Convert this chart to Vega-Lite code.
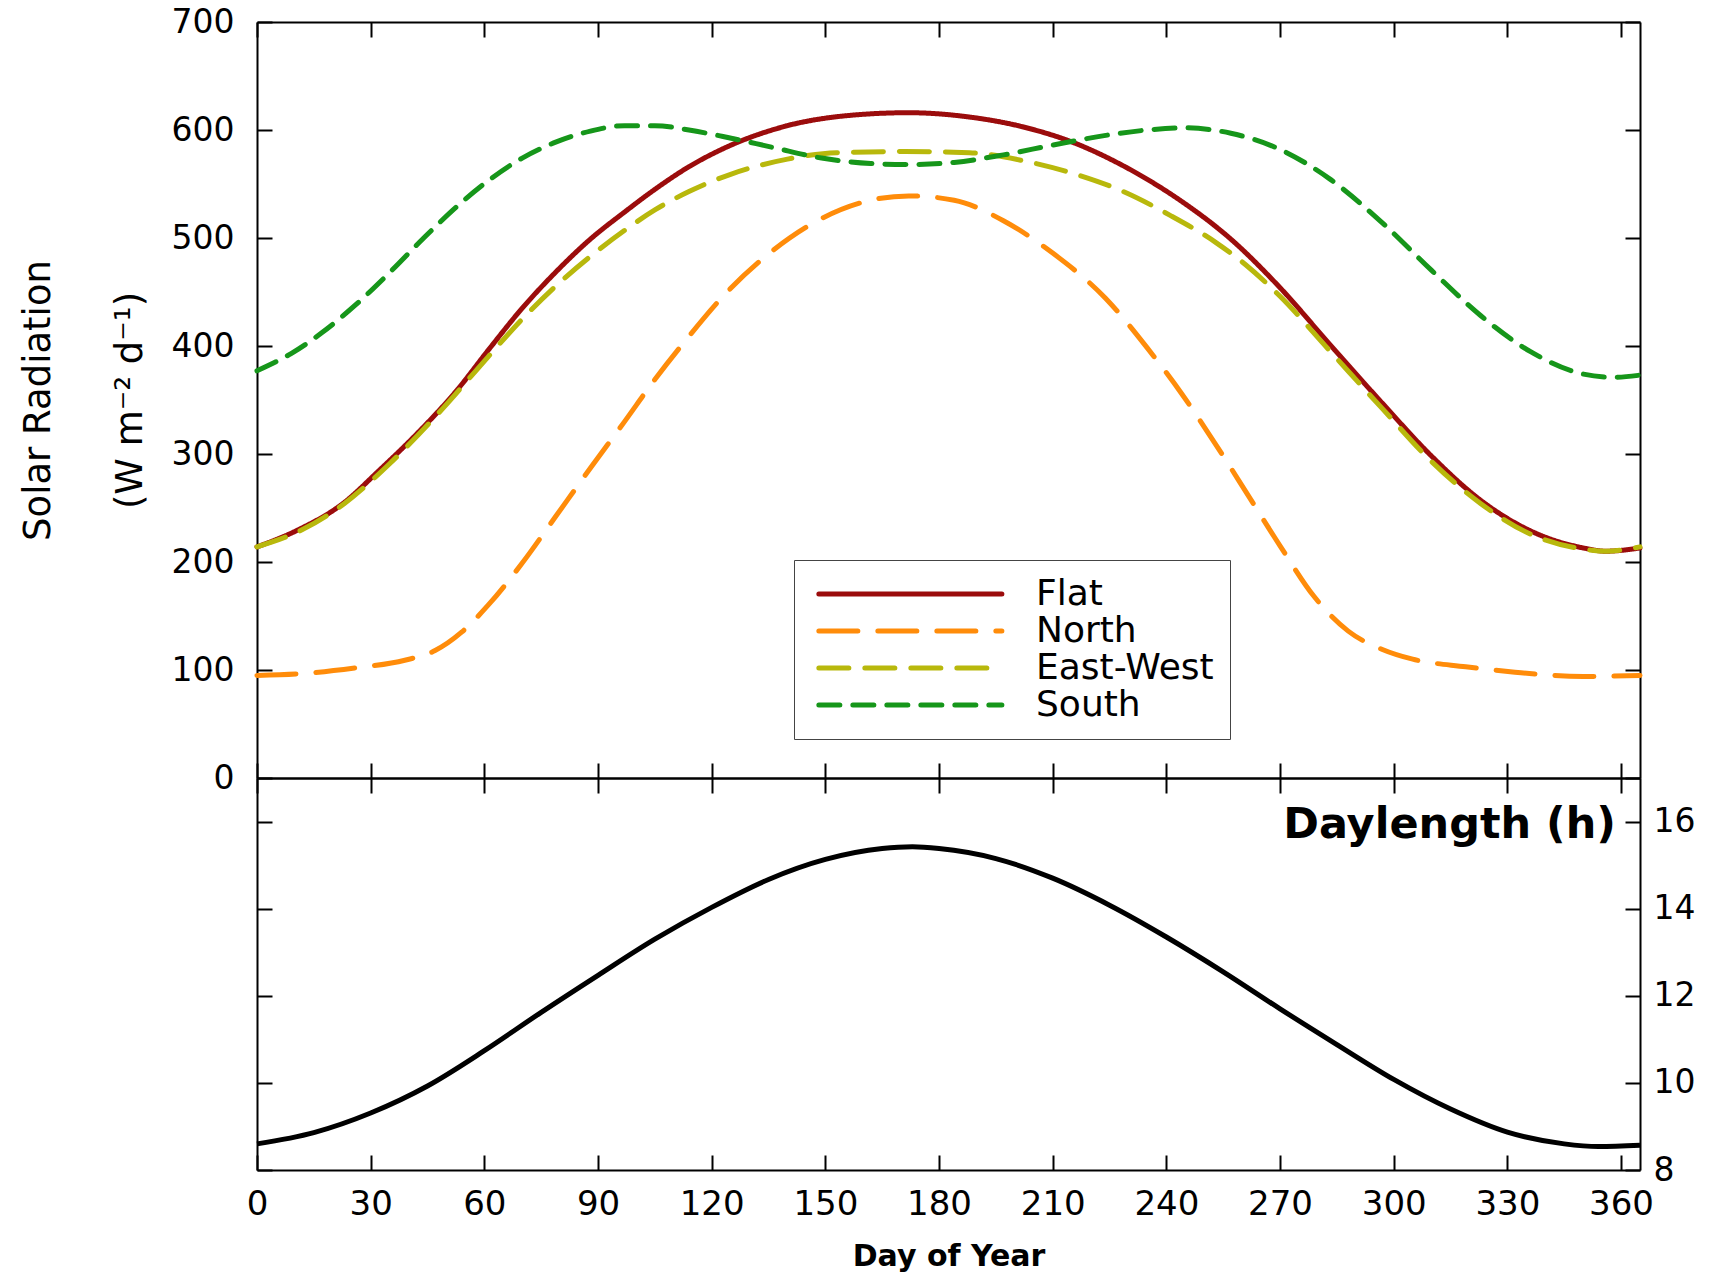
{
  "$schema": "https://vega.github.io/schema/vega-lite/v6.json",
  "padding": {"left": 19, "top": 6, "right": 5, "bottom": 5},
  "background": "white",
  "config": {
    "font": "DejaVu Sans",
    "axis": {"domainColor": "black", "domainWidth": 2, "tickColor": "black", "tickWidth": 2, "labelColor": "black", "titleColor": "black", "grid": false, "labelFont": "DejaVu Sans", "titleFont": "DejaVu Sans", "labelFlush": false, "labelOverlap": false},
    "view": {"stroke": null}
  },
  "spacing": 0,
  "bounds": "flush",
  "resolve": {"legend": {"stroke": "independent", "strokeDash": "independent"}},
  "datasets": {
    "rad": [
      {"day": 0, "value": 214, "series": "Flat"}, {"day": 11, "value": 230, "series": "Flat"}, {"day": 23, "value": 255, "series": "Flat"}, {"day": 32, "value": 284, "series": "Flat"}, {"day": 42, "value": 318, "series": "Flat"}, {"day": 53, "value": 360, "series": "Flat"}, {"day": 61, "value": 396, "series": "Flat"}, {"day": 70, "value": 435, "series": "Flat"}, {"day": 79, "value": 469, "series": "Flat"}, {"day": 88, "value": 499, "series": "Flat"}, {"day": 97, "value": 524, "series": "Flat"}, {"day": 105, "value": 545, "series": "Flat"}, {"day": 114, "value": 566, "series": "Flat"}, {"day": 122, "value": 581, "series": "Flat"}, {"day": 140, "value": 604, "series": "Flat"}, {"day": 158, "value": 614, "series": "Flat"}, {"day": 172, "value": 616, "series": "Flat"}, {"day": 188, "value": 612, "series": "Flat"}, {"day": 202, "value": 603, "series": "Flat"}, {"day": 215, "value": 589, "series": "Flat"}, {"day": 228, "value": 568, "series": "Flat"}, {"day": 237, "value": 550, "series": "Flat"}, {"day": 244, "value": 534, "series": "Flat"}, {"day": 257, "value": 499, "series": "Flat"}, {"day": 270, "value": 454, "series": "Flat"}, {"day": 283, "value": 402, "series": "Flat"}, {"day": 297, "value": 347, "series": "Flat"}, {"day": 310, "value": 298, "series": "Flat"}, {"day": 323, "value": 257, "series": "Flat"}, {"day": 336, "value": 229, "series": "Flat"}, {"day": 350, "value": 213, "series": "Flat"}, {"day": 356, "value": 210, "series": "Flat"}, {"day": 365, "value": 213, "series": "Flat"},
      {"day": 0, "value": 95, "series": "North"}, {"day": 13, "value": 97, "series": "North"}, {"day": 26, "value": 102, "series": "North"}, {"day": 39, "value": 109, "series": "North"}, {"day": 47, "value": 118, "series": "North"}, {"day": 54, "value": 135, "series": "North"}, {"day": 61, "value": 160, "series": "North"}, {"day": 70, "value": 199, "series": "North"}, {"day": 79, "value": 243, "series": "North"}, {"day": 88, "value": 287, "series": "North"}, {"day": 97, "value": 330, "series": "North"}, {"day": 105, "value": 369, "series": "North"}, {"day": 114, "value": 409, "series": "North"}, {"day": 123, "value": 446, "series": "North"}, {"day": 136, "value": 488, "series": "North"}, {"day": 149, "value": 518, "series": "North"}, {"day": 162, "value": 535, "series": "North"}, {"day": 172, "value": 539, "series": "North"}, {"day": 184, "value": 535, "series": "North"}, {"day": 197, "value": 516, "series": "North"}, {"day": 210, "value": 486, "series": "North"}, {"day": 224, "value": 444, "series": "North"}, {"day": 235, "value": 398, "series": "North"}, {"day": 244, "value": 356, "series": "North"}, {"day": 253, "value": 309, "series": "North"}, {"day": 261, "value": 265, "series": "North"}, {"day": 270, "value": 215, "series": "North"}, {"day": 279, "value": 168, "series": "North"}, {"day": 288, "value": 136, "series": "North"}, {"day": 297, "value": 119, "series": "North"}, {"day": 305, "value": 110, "series": "North"}, {"day": 319, "value": 103, "series": "North"}, {"day": 332, "value": 98, "series": "North"}, {"day": 350, "value": 94, "series": "North"}, {"day": 365, "value": 95, "series": "North"},
      {"day": 0, "value": 214, "series": "East-West"}, {"day": 12, "value": 230, "series": "East-West"}, {"day": 23, "value": 254, "series": "East-West"}, {"day": 35, "value": 291, "series": "East-West"}, {"day": 49, "value": 342, "series": "East-West"}, {"day": 61, "value": 390, "series": "East-West"}, {"day": 70, "value": 425, "series": "East-West"}, {"day": 79, "value": 456, "series": "East-West"}, {"day": 88, "value": 483, "series": "East-West"}, {"day": 97, "value": 507, "series": "East-West"}, {"day": 105, "value": 526, "series": "East-West"}, {"day": 114, "value": 543, "series": "East-West"}, {"day": 125, "value": 559, "series": "East-West"}, {"day": 140, "value": 573, "series": "East-West"}, {"day": 153, "value": 579, "series": "East-West"}, {"day": 171, "value": 580, "series": "East-West"}, {"day": 188, "value": 579, "series": "East-West"}, {"day": 203, "value": 571, "series": "East-West"}, {"day": 217, "value": 558, "series": "East-West"}, {"day": 228, "value": 544, "series": "East-West"}, {"day": 241, "value": 521, "series": "East-West"}, {"day": 253, "value": 496, "series": "East-West"}, {"day": 261, "value": 475, "series": "East-West"}, {"day": 270, "value": 446, "series": "East-West"}, {"day": 283, "value": 396, "series": "East-West"}, {"day": 297, "value": 342, "series": "East-West"}, {"day": 310, "value": 293, "series": "East-West"}, {"day": 323, "value": 254, "series": "East-West"}, {"day": 336, "value": 226, "series": "East-West"}, {"day": 350, "value": 212, "series": "East-West"}, {"day": 356, "value": 210, "series": "East-West"}, {"day": 365, "value": 214, "series": "East-West"},
      {"day": 0, "value": 377, "series": "South"}, {"day": 9, "value": 393, "series": "South"}, {"day": 17, "value": 412, "series": "South"}, {"day": 26, "value": 438, "series": "South"}, {"day": 35, "value": 468, "series": "South"}, {"day": 44, "value": 500, "series": "South"}, {"day": 53, "value": 530, "series": "South"}, {"day": 61, "value": 553, "series": "South"}, {"day": 70, "value": 574, "series": "South"}, {"day": 79, "value": 589, "series": "South"}, {"day": 88, "value": 599, "series": "South"}, {"day": 97, "value": 604, "series": "South"}, {"day": 105, "value": 604, "series": "South"}, {"day": 114, "value": 600, "series": "South"}, {"day": 123, "value": 594, "series": "South"}, {"day": 136, "value": 584, "series": "South"}, {"day": 149, "value": 574, "series": "South"}, {"day": 162, "value": 569, "series": "South"}, {"day": 172, "value": 568, "series": "South"}, {"day": 184, "value": 570, "series": "South"}, {"day": 197, "value": 577, "series": "South"}, {"day": 210, "value": 586, "series": "South"}, {"day": 224, "value": 595, "series": "South"}, {"day": 235, "value": 600, "series": "South"}, {"day": 245, "value": 602, "series": "South"}, {"day": 257, "value": 597, "series": "South"}, {"day": 270, "value": 582, "series": "South"}, {"day": 283, "value": 555, "series": "South"}, {"day": 297, "value": 514, "series": "South"}, {"day": 310, "value": 470, "series": "South"}, {"day": 323, "value": 428, "series": "South"}, {"day": 336, "value": 395, "series": "South"}, {"day": 350, "value": 374, "series": "South"}, {"day": 358, "value": 371, "series": "South"}, {"day": 365, "value": 373, "series": "South"}
    ],
    "dl": [
      {"day": 0, "hours": 8.6}, {"day": 15, "hours": 8.86}, {"day": 30, "hours": 9.31}, {"day": 45, "hours": 9.93}, {"day": 60, "hours": 10.74}, {"day": 75, "hours": 11.62}, {"day": 90, "hours": 12.47}, {"day": 105, "hours": 13.3}, {"day": 120, "hours": 14.03}, {"day": 135, "hours": 14.67}, {"day": 150, "hours": 15.13}, {"day": 165, "hours": 15.38}, {"day": 173, "hours": 15.42}, {"day": 180, "hours": 15.38}, {"day": 195, "hours": 15.15}, {"day": 210, "hours": 14.7}, {"day": 225, "hours": 14.08}, {"day": 240, "hours": 13.35}, {"day": 255, "hours": 12.55}, {"day": 270, "hours": 11.7}, {"day": 285, "hours": 10.88}, {"day": 300, "hours": 10.08}, {"day": 315, "hours": 9.4}, {"day": 330, "hours": 8.87}, {"day": 345, "hours": 8.6}, {"day": 354, "hours": 8.54}, {"day": 365, "hours": 8.57}
    ]
  },
  "vconcat": [
    {
      "width": 1383,
      "height": 756,
      "data": {"name": "rad"},
      "layer": [
        {
          "mark": {"type": "line", "strokeWidth": 5, "strokeCap": "round", "interpolate": "monotone"},
          "encoding": {
            "x": {"field": "day", "type": "quantitative", "scale": {"domain": [0, 365], "nice": false, "zero": false},
                  "axis": {"orient": "bottom", "values": [0, 30, 60, 90, 120, 150, 180, 210, 240, 270, 300, 330, 360], "labels": false, "title": null, "tickSize": -15}},
            "y": {"field": "value", "type": "quantitative", "scale": {"domain": [0, 700], "nice": false},
                  "axis": {"orient": "left", "values": [0, 100, 200, 300, 400, 500, 600, 700], "tickSize": -15, "labelPadding": 38, "labelFontSize": 33,
                           "title": ["Solar Radiation", "(W m⁻² d⁻¹)"], "titleFontSize": 37, "titleFontWeight": "normal", "titleLineHeight": 92, "titlePadding": 22}},
            "stroke": {"field": "series", "type": "nominal",
                       "scale": {"domain": ["Flat", "North", "East-West", "South"], "range": ["#9b0c0c", "#ff8c0a", "#b8b80c", "#16961a"]},
                       "legend": {"orient": "none", "legendX": 537, "legendY": 538, "title": null, "symbolType": "M-1,0L19,0", "symbolSize": 335, "symbolStrokeWidth": 5, "labelFontSize": 36, "labelFont": "DejaVu Sans", "labelColor": "black", "labelOffset": 190, "labelLimit": 0, "labelExpr": "datum.label + '\u2002'", "strokeColor": "#444", "padding": 16, "rowPadding": 1, "fillColor": "white",
                                  "encode": {"symbols": {"update": {"strokeCap": {"value": "round"}}}}}},
            "strokeDash": {"field": "series", "type": "nominal",
                           "scale": {"domain": ["Flat", "North", "East-West", "South"], "range": [[1, 0], [39, 20], [30, 16], [21, 13]]},
                           "legend": {"orient": "none", "legendX": 537, "legendY": 538, "title": null, "symbolType": "M-1,0L19,0", "symbolSize": 335, "symbolStrokeWidth": 5, "labelFontSize": 36, "labelFont": "DejaVu Sans", "labelColor": "black", "labelOffset": 190, "labelLimit": 0, "labelExpr": "datum.label + '\u2002'", "strokeColor": "#444", "padding": 16, "rowPadding": 1, "fillColor": "white",
                                      "encode": {"symbols": {"update": {"strokeCap": {"value": "round"}}}}}}
          }
        },
        {
          "mark": {"type": "point", "opacity": 0},
          "encoding": {
            "x": {"field": "day", "type": "quantitative", "scale": {"domain": [0, 365], "nice": false, "zero": false},
                  "axis": {"orient": "top", "values": [0, 30, 60, 90, 120, 150, 180, 210, 240, 270, 300, 330, 360], "labels": false, "title": null, "tickSize": -15}},
            "y": {"field": "value", "type": "quantitative", "scale": {"domain": [0, 700], "nice": false},
                  "axis": {"orient": "right", "values": [0, 100, 200, 300, 400, 500, 600, 700], "labels": false, "title": null, "tickSize": -15}}
          }
        }
      ],
      "resolve": {"axis": {"x": "independent", "y": "independent"}}
    },
    {
      "width": 1383,
      "height": 392,
      "data": {"name": "dl"},
      "title": {"text": "Daylength (h)", "orient": "top", "anchor": "end", "frame": "group", "offset": -104, "fontSize": 43, "fontWeight": "bold", "font": "DejaVu Sans", "baseline": "alphabetic", "dx": -24, "color": "black"},
      "layer": [
        {
          "mark": {"type": "line", "color": "black", "strokeWidth": 5, "interpolate": "monotone"},
          "encoding": {
            "x": {"field": "day", "type": "quantitative", "scale": {"domain": [0, 365], "nice": false, "zero": false},
                  "axis": {"orient": "bottom", "values": [0, 30, 60, 90, 120, 150, 180, 210, 240, 270, 300, 330, 360], "tickSize": -15, "labelPadding": 32, "labelFontSize": 34,
                           "title": "Day of Year", "titleFontSize": 30, "titleFontWeight": "bold", "titlePadding": 20}},
            "y": {"field": "hours", "type": "quantitative", "scale": {"domain": [8, 17], "nice": false, "zero": false},
                  "axis": {"orient": "right", "values": [8, 10, 12, 14, 16], "tickSize": -15, "labelPadding": 28, "labelFontSize": 33, "title": null}}
          }
        },
        {
          "mark": {"type": "point", "opacity": 0},
          "encoding": {
            "x": {"field": "day", "type": "quantitative", "scale": {"domain": [0, 365], "nice": false, "zero": false},
                  "axis": {"orient": "top", "values": [0, 30, 60, 90, 120, 150, 180, 210, 240, 270, 300, 330, 360], "labels": false, "title": null, "tickSize": -15}},
            "y": {"field": "hours", "type": "quantitative", "scale": {"domain": [8, 17], "nice": false, "zero": false},
                  "axis": {"orient": "left", "values": [8, 10, 12, 14, 16], "labels": false, "title": null, "tickSize": -15}}
          }
        }
      ],
      "resolve": {"axis": {"x": "independent", "y": "independent"}}
    }
  ]
}
